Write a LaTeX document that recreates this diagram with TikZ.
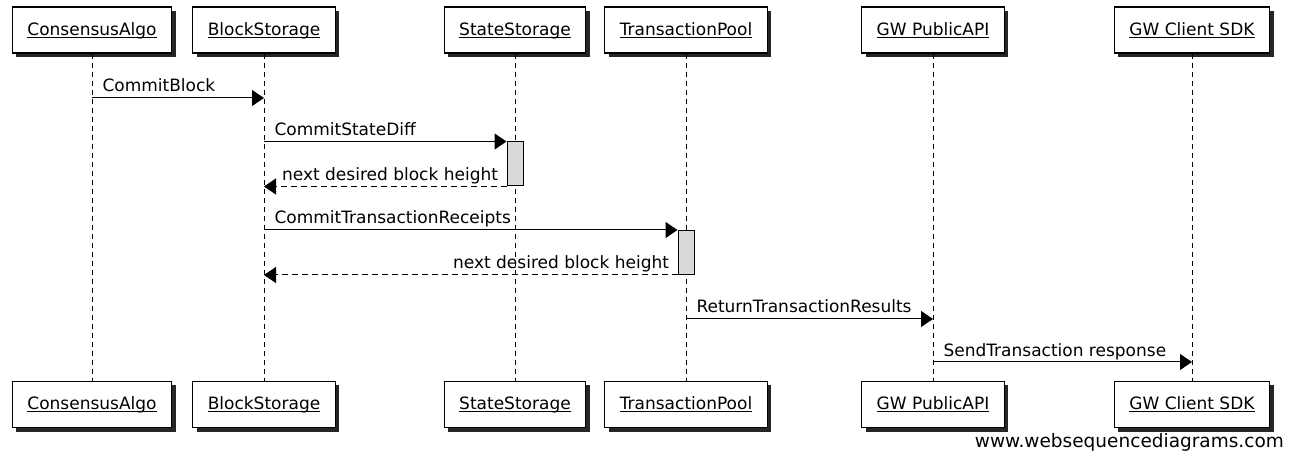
\documentclass[tikz,border=0pt]{standalone}
\usepackage{fontspec}
\setmainfont{DejaVu Sans}
\usetikzlibrary{shadows,arrows.meta,backgrounds}
\tikzset{%
      participant/.style={draw, line width=1.2pt, fill=white, inner xsep=15pt, minimum height=46pt,
        drop shadow={shadow xshift=4pt, shadow yshift=-4pt, fill=black, opacity=0.85}},
      lifeline/.style={draw, line width=1pt, dash pattern=on 5pt off 4pt},
      activation/.style={draw, line width=1pt, fill=black!15, minimum width=16pt, minimum height=44pt, inner sep=0pt},
      msg/.style={draw, line width=1pt, -{Triangle[length=12pt,width=16pt]}},
      retmsg/.style={msg, dash pattern=on 6pt off 4pt},
      msglabel/.style={inner sep=0pt, anchor=base west, xshift=10pt, yshift=6pt},
      retlabel/.style={inner sep=0pt, anchor=base east, xshift=-8pt, yshift=6pt},
    }
\newcommand{\participant}[2]{node (#1) [participant] {\underline{\raisebox{0pt}[\height][0pt]{#2}}}}

\begin{document}
\begin{tikzpicture}[x=1pt, y=-1pt, font=\fontsize{17}{20}\selectfont]
      \useasboundingbox (0,0) rectangle (1291,462);

      % Participants, top row
      \path (92,30) \participant{t1}{ConsensusAlgo};
      \path (264,30) \participant{t2}{BlockStorage};
      \path (515,30) \participant{t3}{StateStorage};
      \path (686,30) \participant{t4}{TransactionPool};
      \path (933,30) \participant{t5}{GW PublicAPI};
      \path (1192,30) \participant{t6}{GW Client SDK};

      % Participants, bottom row
      \path (92,404.5) \participant{b1}{ConsensusAlgo};
      \path (264,404.5) \participant{b2}{BlockStorage};
      \path (515,404.5) \participant{b3}{StateStorage};
      \path (686,404.5) \participant{b4}{TransactionPool};
      \path (933,404.5) \participant{b5}{GW PublicAPI};
      \path (1192,404.5) \participant{b6}{GW Client SDK};

      % Lifelines
      \begin{scope}[on background layer]
        \path [lifeline] (t1.south) -- (b1.north);
        \path [lifeline] (t2.south) -- (b2.north);
        \path [lifeline] (t3.south) -- (b3.north);
        \path [lifeline] (t4.south) -- (b4.north);
        \path [lifeline] (t5.south) -- (b5.north);
        \path [lifeline] (t6.south) -- (b6.north);
      \end{scope}

      % Activations
      \node (a1) [activation] at (515,164) {};
      \node (a2) [activation] at (686,252.5) {};

      % Messages
      \path [msg] (t1 |- 0,98) -- node [msglabel, pos=0] {CommitBlock} (t2 |- 0,98);
      \path [msg] (t2 |- a1.north) -- node [msglabel, pos=0] {CommitStateDiff} (a1.north west);
      \path [retmsg] (a1.south west) -- node [retlabel, pos=0] {next desired block height} (t2 |- a1.south);
      \path [msg] (t2 |- a2.north) -- node [msglabel, pos=0] {CommitTransactionReceipts} (a2.north west);
      \path [retmsg] (a2.south west) -- node [retlabel, pos=0] {next desired block height} (t2 |- a2.south);
      \path [msg] (t4 |- 0,319) -- node [msglabel, pos=0] {ReturnTransactionResults} (t5 |- 0,319);
      \path [msg] (t5 |- 0,362) -- node [msglabel, pos=0] {SendTransaction response} (t6 |- 0,362);

      \node (wsd) [anchor=base east, inner sep=0pt, font=\fontsize{18.5}{20}\selectfont] at (1284,447) {www.websequencediagrams.com};

    \end{tikzpicture}
\end{document}
